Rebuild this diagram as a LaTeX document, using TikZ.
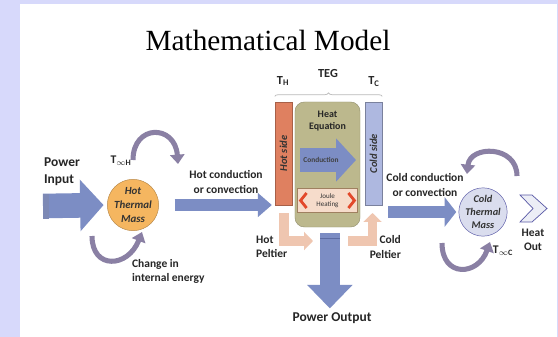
\documentclass[tikz,border=0pt]{standalone}
\usepackage{fontspec}
\setmainfont{Carlito}
\newfontfamily\titlefont{Liberation Serif}
\usetikzlibrary{arrows.meta,positioning,calc,decorations.pathreplacing}
\definecolor{Lav}{HTML}{D7D9FB}
\definecolor{Slate}{HTML}{7C8DC4}
\definecolor{SlateDk}{HTML}{5D6CA2}
\definecolor{Mauve}{HTML}{8A80A4}
\definecolor{HotMass}{HTML}{F5B660}
\definecolor{HotBar}{HTML}{DF8060}
\definecolor{ColdBar}{HTML}{AEB8E0}
\definecolor{Khaki}{HTML}{BCB88D}
\definecolor{Salmon}{HTML}{EFC6B0}
\definecolor{Joule}{HTML}{F6DCCB}
\definecolor{Chev}{HTML}{E2492B}
\definecolor{ColdMass}{HTML}{DADDEE}

\begin{document}
\begin{tikzpicture}[x=0.03cm,y=-0.03cm,
  lbl/.style={font=\bfseries\fontsize{9.8}{12}\selectfont,text=black!85,align=center},
  mass/.style={circle,inner sep=0pt,align=center,text=black!80,font=\bfseries\itshape\fontsize{9.3}{12}\selectfont},
  sidebar/.style={rectangle,inner sep=0pt,minimum width=14.5pt,minimum height=88pt},
  sidetxt/.style={rotate=90,text=black!80,font=\bfseries\itshape\fontsize{9}{10}\selectfont},
  fatarr/.style n args={3}{Slate,line width=#1,-{Triangle[length=#2,width=#3]}},
  turnarr/.style={Mauve,line width=4.3pt,-{Triangle[length=8pt,width=12pt]}},
  peltarr/.style={Salmon,line width=7.7pt,line join=miter,-{Triangle[length=7.5pt,width=15pt]}}]
\useasboundingbox (0,0) rectangle (558,337);
\fill[Lav] (0,0) rectangle (558,337);
\fill[white] (20,4) rectangle (557,337);

\node[font=\titlefont\fontsize{25}{28}\selectfont,anchor=base] (title) at (268,50) {Mathematical Model};

% hot thermal mass
\node[mass,fill=HotMass,draw=HotMass!75!black,minimum size=40pt] (hotmass) at (133,205) {Hot\\Thermal\\Mass};
\node[lbl,font=\bfseries\fontsize{11.5}{14.5}\selectfont,align=left,anchor=west] (powin) at (40,172) {Power\\Input};
\coordinate (pin) at (43,206);
\draw[fatarr={21pt}{20pt}{43pt},shorten >=3pt] (pin) -- (hotmass.west);
\fill[SlateDk!80] (43,193.5) rectangle (49,218.5);
\node[lbl,font=\bfseries\fontsize{10}{11}\selectfont] (tinfh) at (121,161) {T\textsubscript{$\infty$H}};
\coordinate (huA) at (133,160);
\coordinate (huB) at (178,164);
\draw[turnarr] (huA) .. controls (133,124) and (175,124) .. (huB);
\coordinate (hdA) at (92,236);
\coordinate (hdB) at (142,232);
\draw[turnarr] (hdA) .. controls (92,270) and (128,268) .. (hdB);
\node[lbl,align=left,anchor=west] (intern) at (128,271) {Change in\\internal energy};
\node[lbl] (hotconv) at (226,182) {Hot conduction\\or convection};

% TEG
\node[sidebar,fill=HotBar,draw=HotBar!75!black] (hotside) at (283.5,153.5) {};
\node[sidetxt] (hotlbl) at (hotside) {Hot side};
\node[sidebar,fill=ColdBar,draw=ColdBar!70!black] (coldside) at (373.5,153.5) {};
\node[sidetxt] (coldlbl) at (coldside) {Cold side};
\draw[fatarr={10pt}{12pt}{20pt},shorten <=13.5pt,shorten >=2.5pt] (hotmass.east) -- (hotmass.east -| hotside.west);
\node[rounded corners=8pt,fill=Khaki,draw=Khaki!80!black,minimum width=55.5pt,minimum height=106.7pt] (heatbox) at (327.5,164.5) {};
\node[lbl,font=\bfseries\fontsize{8.5}{10.5}\selectfont] (heateq) at (327.5,121) {Heat\\Equation};
\coordinate (cA) at (300,160);
\coordinate (cB) at (356,160);
\draw[fatarr={20.5pt}{17pt}{36pt}] (cA) -- (cB);
\node[font=\bfseries\fontsize{6.3}{7}\selectfont,text=black!75] (cond) at (321,160) {Conduction};
\node[fill=Joule,draw=brown!50!gray,line width=0.8pt,minimum width=52pt,minimum height=21pt,inner sep=0pt,
  align=center,text=black!80,font=\fontsize{6}{7}\selectfont] (joule) at (327.5,200.5) {Joule\\Heating};
\draw[Chev,line width=2.4pt] ($(joule.west)+(10,-7.5)$) -- ($(joule.west)+(4,0)$) -- ($(joule.west)+(10,7.5)$);
\draw[Chev,line width=2.4pt] ($(joule.east)+(-10,-7.5)$) -- ($(joule.east)+(-4,0)$) -- ($(joule.east)+(-10,7.5)$);
\draw[gray!55,line width=0.6pt,decorate,decoration={brace,amplitude=3pt}]
  ([yshift=4.5pt]hotside.north west) -- ([yshift=4.5pt]coldside.north east);
\node[lbl,font=\bfseries\fontsize{10.5}{12}\selectfont] (teg) at (328,74) {TEG};
\node[lbl,font=\bfseries\fontsize{10.5}{12}\selectfont] (th) at (283,81) {T\textsubscript{H}};
\node[lbl,font=\bfseries\fontsize{10.5}{12}\selectfont] (tc) at (374,82) {T\textsubscript{C}};

% peltier and output
\coordinate (hpA) at (284,213);
\coordinate (hpB) at (313,241);
\draw[peltarr] (hpA) |- (hpB);
\coordinate (cpA) at (348,241);
\coordinate (cpB) at (372.5,213);
\draw[peltarr] (cpA) -| (cpB);
\node[lbl,align=left,anchor=west] (hotpelt) at (252,247) {Hot\\Peltier};
\node[lbl,align=right,anchor=east] (coldpelt) at (405,247) {Cold\\Peltier};
\node[lbl,font=\bfseries\fontsize{11.5}{13}\selectfont] (powout) at (332,318) {Power Output};
\draw[fatarr={17pt}{20pt}{37.5pt},shorten <=5pt] ([xshift=2pt]heatbox.south) -- ([xshift=2pt]heatbox.south |- powout.north);
\draw[SlateDk,line width=1.6pt] (320,238.5) -- (340,238.5);

% cold thermal mass
\node[mass,fill=ColdMass,draw=gray!70!blue,minimum size=36pt,font=\bfseries\itshape\fontsize{8.8}{11}\selectfont] (coldmass) at (483,212) {Cold\\Thermal\\Mass};
\node[lbl] (coldconv) at (425,185) {Cold conduction\\or convection};
\draw[fatarr={10pt}{10pt}{25pt},shorten <=5pt,shorten >=2pt] (coldmass.west -| coldside.east) -- (coldmass.west);
\coordinate (cuA) at (517,176);
\coordinate (cuB) at (467,174);
\draw[turnarr] (cuA) .. controls (517,145) and (470,145) .. (cuB);
\coordinate (cdA) at (442,243);
\coordinate (cdB) at (490,242);
\draw[turnarr] (cdA) .. controls (442,278) and (478,276) .. (cdB);
\node[lbl,font=\bfseries\fontsize{10}{11}\selectfont] (tinfc) at (503,251) {T\textsubscript{$\infty$C}};
\draw[fill=ColdMass!50!white,draw=gray!70!blue,line width=0.6pt]
  (520,195) -- (532,195) -- (547,208.5) -- (532,222) -- (520,222) -- (533,208.5) -- cycle;
\node[lbl] (heatout) at (533,240) {Heat\\Out};
\end{tikzpicture}
\end{document}
